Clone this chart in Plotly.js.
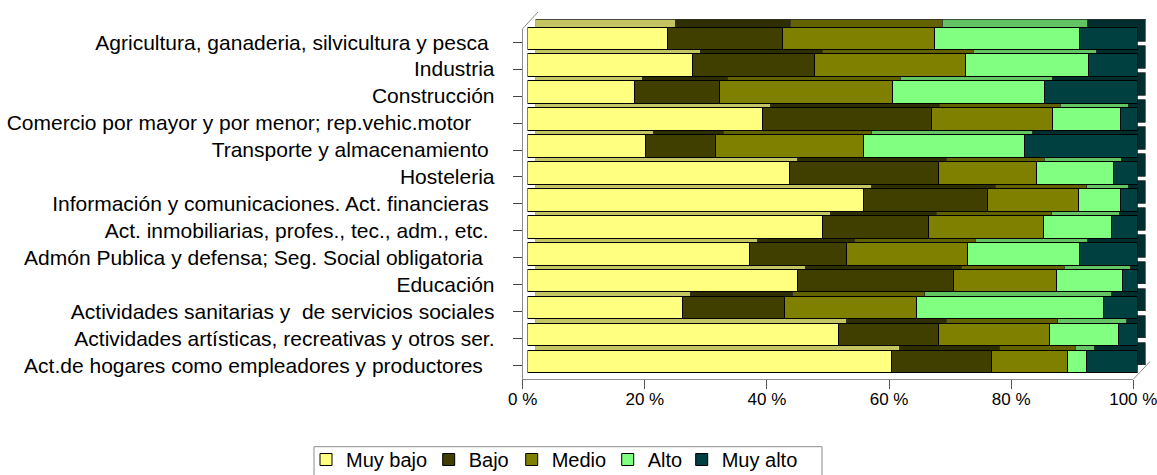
<!DOCTYPE html>
<html>
<head>
<meta charset="utf-8">
<script src="https://cdn.plot.ly/plotly-3.0.1.min.js"></script>
<style>html,body{margin:0;padding:0;background:#fff;}#chart{width:1157px;height:475px;}</style>
</head>
<body>
<div id="chart"></div>
<script>
// ---- data ----
const NB = '\u00a0';
const categories = [
  'Agricultura, ganaderia, silvicultura y pesca' + NB,
  'Industria',
  'Construcción',
  'Comercio por mayor y por menor; rep.vehic.motor' + NB + NB + NB + NB,
  'Transporte y almacenamiento' + NB,
  'Hosteleria',
  'Información y comunicaciones. Act. financieras' + NB,
  'Act. inmobiliarias, profes., tec., adm., etc.' + NB,
  'Admón Publica y defensa; Seg. Social obligatoria' + NB + NB,
  'Educación',
  'Actividades sanitarias y ' + NB + 'de servicios sociales',
  'Actividades artísticas, recreativas y otros ser.',
  'Act.de hogares como empleadores y productores' + NB + NB
];
const seriesNames = ['Muy bajo', 'Bajo', 'Medio', 'Alto', 'Muy alto'];
const muyBajo = [22.9, 27.0, 17.5, 38.6, 19.3, 43.0, 55.0, 48.3, 36.4, 44.2, 25.4, 51.0, 59.7];
const bajo    = [18.9, 20.0, 14.0, 27.6, 11.5, 24.3, 20.4, 17.4, 15.9, 25.7, 16.8, 16.3, 16.4];
const medio   = [24.9, 24.8, 28.3, 19.8, 24.3, 16.1, 15.0, 18.9, 19.8, 16.8, 21.6, 18.3, 12.4];
const alto    = [23.8, 20.1, 24.9, 11.2, 26.4, 12.6,  6.8, 11.2, 18.4, 10.8, 30.7, 11.3,  3.1];
const muyAlto = [ 9.5,  8.1, 15.3,  2.8, 18.5,  4.0,  2.8,  4.2,  9.5,  2.5,  5.5,  3.1,  8.4];
const xTickVals = [0, 20, 40, 60, 80, 100];

// ---- styling ----
const seriesValues = [muyBajo, bajo, medio, alto, muyAlto];
const frontColors = ['#FFFF80', '#403F00', '#808000', '#80FF80', '#004040'];
const topColors   = ['#C4C462', '#2E2E00', '#626200', '#62C462', '#002E2E'];
const legendTextLeft = [345, 467.7, 550.7, 646.7, 720.7]; // pixel positions of legend entries

// plot area in pixels
const L = 522, R = 1146, T = 16, B = 380;
const W = R - L, H = B - T;
const dx = (a, b) => [(a - L) / W, (b - L) / W];
const dy = (top, bot) => [(B - bot) / H, (B - top) / H];
const px = v => (v - L) / W;
const py = v => (B - v) / H;

const traces = [];
// invisible trace to carry the category axis on the floor/wall axes
traces.push({
  type: 'scatter', mode: 'none', x: categories.map(() => 0), y: categories,
  xaxis: 'x', yaxis: 'y', showlegend: false, hoverinfo: 'skip'
});
// back faces (top / side of the 3D bars)
seriesValues.forEach((vals, i) => {
  traces.push({
    type: 'bar', orientation: 'h', x: vals, y: categories, name: seriesNames[i],
    xaxis: 'x2', yaxis: 'y2', showlegend: false, hoverinfo: 'skip',
    marker: {color: topColors[i], line: {color: '#303030', width: 0.8}}
  });
});
// front faces
seriesValues.forEach((vals, i) => {
  traces.push({
    type: 'bar', orientation: 'h', x: vals, y: categories, name: seriesNames[i],
    xaxis: 'x3', yaxis: 'y3', legend: i === 0 ? 'legend' : 'legend' + (i + 1),
    marker: {color: frontColors[i], line: {color: '#000000', width: 1}}
  });
});

const hidden = {visible: false, showgrid: false, zeroline: false, fixedrange: true};
const layout = {
  width: 1157, height: 475,
  margin: {l: L, r: 1157 - R, t: T, b: 475 - B, pad: 0, autoexpand: false},
  paper_bgcolor: '#ffffff', plot_bgcolor: 'rgba(0,0,0,0)',
  font: {family: 'Liberation Sans, Arial, sans-serif', color: '#000000', size: 20},
  barmode: 'stack', bargap: 0.173,
  showlegend: true,
  shapes: [
    {type: 'rect', xref: 'paper', yref: 'paper', x0: px(314), x1: px(822), y0: py(446.7), y1: py(490),
     line: {color: '#8c8c8c', width: 1}, fillcolor: 'rgba(0,0,0,0)', layer: 'below'},
    {type: 'line', xref: 'paper', yref: 'paper', x0: px(1133.3), y0: py(379.2), x1: px(1150), y1: py(361.7),
     line: {color: '#8c8c8c', width: 1}},
    {type: 'line', xref: 'paper', yref: 'paper', x0: px(522.7), y0: py(28.7), x1: px(538), y1: py(12),
     line: {color: '#8c8c8c', width: 1}}
  ],
  xaxis: {
    domain: dx(522.7, 1133.3), anchor: 'y', range: [0, 100],
    tickvals: xTickVals, ticktext: xTickVals.map(v => v + ' %'),
    showline: true, linecolor: '#8c8c8c', linewidth: 1,
    ticks: 'outside', ticklen: 9, tickcolor: '#555555', tickwidth: 1,
    ticklabeloverflow: 'allow', ticklabelstandoff: -5,
    showgrid: false, zeroline: false, tickfont: {size: 17}
  },
  yaxis: {
    domain: dy(28.7, 379.2), anchor: 'x', type: 'category',
    categoryorder: 'array', categoryarray: categories, range: [12.5, -0.5],
    showline: true, linecolor: '#8c8c8c', linewidth: 1,
    ticks: 'outside', ticklen: 9, tickcolor: '#444444', tickwidth: 1,
    ticklabelstandoff: 14,
    showgrid: false, zeroline: false, tickfont: {size: 21}
  },
  xaxis2: Object.assign({domain: dx(535.5, 1145.5), anchor: 'y2', range: [0, 100]}, hidden),
  yaxis2: Object.assign({domain: dy(16.7, 367.2), anchor: 'x2', type: 'category',
    categoryorder: 'array', categoryarray: categories, range: [12.5, -0.5]}, hidden),
  xaxis3: Object.assign({domain: dx(527.5, 1137.5), anchor: 'y3', range: [0, 100]}, hidden),
  yaxis3: Object.assign({domain: dy(24.7, 375.2), anchor: 'x3', type: 'category',
    categoryorder: 'array', categoryarray: categories, range: [12.5, -0.5]}, hidden)
};
legendTextLeft.forEach((t, i) => {
  const key = i === 0 ? 'legend' : 'legend' + (i + 1);
  layout[key] = {
    orientation: 'h', x: px(t - 39), xanchor: 'left', y: py(440), yanchor: 'top',
    borderwidth: 0, bgcolor: 'rgba(0,0,0,0)', font: {size: 20},
    itemclick: false, itemdoubleclick: false
  };
});

Plotly.newPlot('chart', traces, layout, {displayModeBar: false, staticPlot: true});
</script>
</body>
</html>
